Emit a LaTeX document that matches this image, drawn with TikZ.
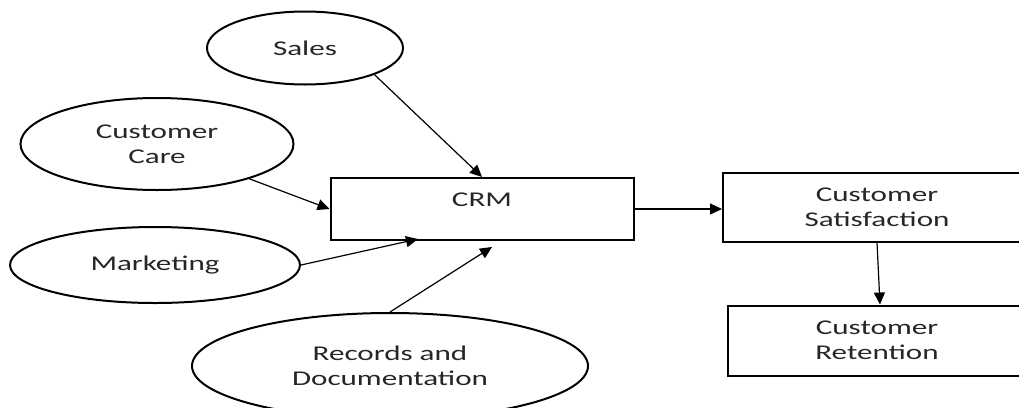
\documentclass[tikz,border=0pt]{standalone}
\usepackage{fontspec}
\setmainfont{Carlito}[FakeStretch=1.48]
\usetikzlibrary{shapes.geometric, arrows.meta, positioning}

\begin{document}
\begin{tikzpicture}[
    x=1pt, y=-1pt,
    every node/.style={font=\fontsize{21}{25}\selectfont, text=black!85, align=center},
    source/.style={ellipse, draw, line width=2pt, inner sep=0pt},
    box/.style={rectangle, draw, line width=2pt, inner sep=0pt},
    link/.style={-{Triangle[length=12pt, width=11pt]}, line width=1.2pt}
]
\useasboundingbox (0,0) rectangle (1019,407);

% departments feeding the CRM
\node[source, minimum width=196pt, minimum height=73pt] (sales) at (305,48) {Sales};
\node[source, minimum width=273pt, minimum height=92pt] (care) at (157,144) {Customer\\Care};
\node[source, minimum width=290pt, minimum height=76pt] (marketing) at (155,265) {Marketing};
\node[source, minimum width=396pt, minimum height=106pt] (records) at (390,366) {Records and\\Documentation};

% outcome chain
\node[box, minimum width=303pt, minimum height=62pt, text height=14pt, text depth=20pt] (crm) at (482,209) {CRM};
\node[box, minimum width=308pt, minimum height=69pt] (satisfaction) at (877,207) {Customer\\Satisfaction};
\node[box, minimum width=298pt, minimum height=70pt, below=62pt of satisfaction] (retention) {Customer\\Retention};

\coordinate (mkt in) at (418,239);
\coordinate (rec in) at (492,247);

\draw[link] (sales.-21) -- (crm.north);
\draw[link] (care) -- (crm.west);
\draw[link] (marketing.east) -- (mkt in);
\draw[link] (records.north) -- (rec in);
\draw[link] (crm.east) -- (crm.east -| satisfaction.west);
\draw[link] (satisfaction.south) -- ([xshift=3pt]retention.north);
\end{tikzpicture}
\end{document}
